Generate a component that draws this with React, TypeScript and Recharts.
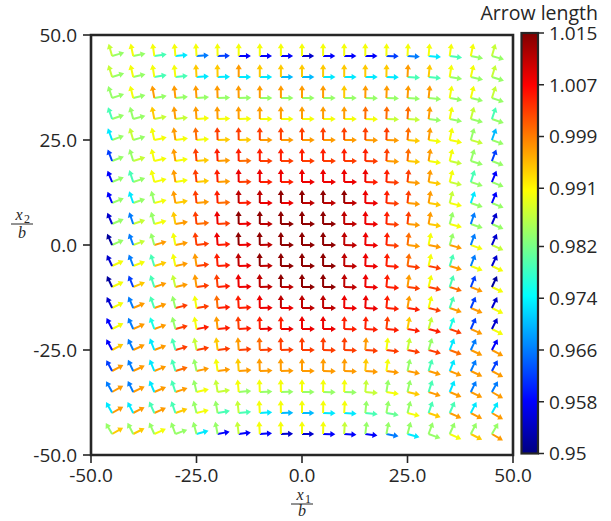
import React from 'react';
import { ScatterChart, Scatter, XAxis, YAxis, ReferenceArea } from 'recharts';

// grid of arrow origins
const gridX = [-45, -40, -35, -30, -25, -20, -15, -10, -5, 0, 5, 10, 15, 20, 25, 30, 35, 40, 45];
const gridY = [45, 40, 35, 30, 25, 20, 15, 10, 5, 0, -5, -10, -15, -20, -25, -30, -35, -40, -45];
const axisTicks = [-50, -25, 0, 25, 50];
const cbTicks = [0.95, 0.958, 0.966, 0.974, 0.982, 0.991, 0.999, 1.007, 1.015];
const cbMin = 0.95;
const cbMax = 1.015;

// arrow length levels, code letters a..u
const lengthLevels = [0.952, 0.955, 0.958, 0.962, 0.966, 0.970, 0.973, 0.976, 0.979, 0.981, 0.984,
  0.987, 0.990, 0.994, 0.997, 1.000, 1.003, 1.005, 1.008, 1.011, 1.014];

// lengths of the "horizontal" lattice arrows, one string per row (top to bottom), groups of 5 columns
const hLengthRows = [
  'kkige dcccb cccde gikk',
  'kkiig gggff ggggi ikkk',
  'kkkkk kkkkk kkkkk kkkk',
  'kkllm mmmmm mmmll kkkk',
  'kkmmm nnooo oooon mmlk',
  'klmmn opqqq qqqon mlkk',
  'kkmmn oqrrs ssrqo nlkk',
  'kkmno prsst ttsqo nmkk',
  'klmop qstuu utsqo nmkk',
  'klooq rstuu utsqo ooml',
  'mmnoq rstuu utsrq qomm',
  'mnooq rsttu utsrq qpom',
  'mooqq rrsst tssrr qoom',
  'mooqr rrsss srrrr rqom',
  'nooqq qqqqq qqqqq qpoo',
  'ooopo ooooo ooooo oooo',
  'oooom lkkkk kklmn oooo',
  'ooonm iigff ggijm nooo',
  'nnmkg cccbb ccceg kmno',
];

// lengths of the "vertical" lattice arrows
const vLengthRows = [
  'lmmmm mmmmm mmmmm mmml',
  'lmmmn nonnn nnnno nmml',
  'kmooo ooooo onooo omml',
  'iknoo ooooo ooppp omli',
  'glmop qqqqq qqqqp omkf',
  'dkmoq rrrrr rrrqp omkd',
  'cimoq rssss sssrq omic',
  'cgkoq rttuu uusrq olgc',
  'beknq suuuu utsrq okeb',
  'aekmq suuuu utsrp mkeb',
  'beimo rtuuu utsrp mieb',
  'adilo qstuu utsro mida',
  'beikm prstt tssro midb',
  'cehkm oqrrs srrqn lhdb',
  'cegil nopqq qqoml kgec',
  'degik mnooo oonmk iged',
  'eegik lmmmm mmlkk igee',
  'ggiik klmmm mmkkk iigg',
  'kkkkk klmmm mlkkk kkkk',
];

// local rotation of the lattice (degrees, counter-clockwise positive)
const rotationRows = [
  [16, 12, 8, 5, 3, 1, 0, 0, 0, 0, 0, 0, 0, -1, -3, -5, -8, -12, -16],
  [17, 13, 9, 6, 3, 1, 0, 0, 0, 0, 0, 0, 0, -1, -3, -6, -9, -13, -17],
  [18, 14, 10, 6, 4, 2, 1, 0, 0, 0, 0, 0, -1, -2, -4, -6, -10, -14, -18],
  [19, 15, 11, 7, 4, 2, 1, 0, 0, 0, 0, 0, -1, -2, -4, -7, -11, -15, -19],
  [20, 16, 12, 8, 5, 2, 1, 0, 0, 0, 0, 0, -1, -2, -5, -8, -12, -16, -20],
  [21, 17, 13, 9, 5, 3, 1, 0, 0, 0, 0, 0, -1, -3, -5, -9, -13, -17, -21],
  [22, 18, 14, 9, 6, 3, 1, 0, 0, 0, 0, 0, -1, -3, -6, -9, -14, -18, -22],
  [22, 19, 14, 10, 6, 3, 1, 0, 0, 0, 0, 0, -1, -3, -6, -10, -14, -19, -22],
  [23, 19, 15, 10, 6, 3, 1, 0, 0, 0, 0, 0, -1, -3, -6, -10, -15, -19, -23],
  [24, 20, 16, 11, 7, 4, 2, 1, 0, 0, 0, -1, -2, -4, -7, -11, -16, -20, -24],
  [25, 21, 17, 12, 8, 4, 2, 1, 0, 0, 0, -1, -2, -4, -8, -12, -17, -21, -25],
  [25, 22, 18, 13, 8, 5, 2, 1, 0, 0, 0, -1, -2, -5, -8, -13, -18, -22, -25],
  [26, 23, 19, 14, 9, 5, 3, 1, 0, 0, 0, -1, -3, -5, -9, -14, -19, -23, -26],
  [27, 24, 20, 15, 10, 6, 3, 1, 0, 0, 0, -1, -3, -6, -10, -15, -20, -24, -27],
  [28, 25, 21, 16, 11, 7, 4, 2, 1, 0, -1, -2, -4, -7, -11, -16, -21, -25, -28],
  [28, 25, 22, 17, 12, 8, 4, 2, 1, 0, -1, -2, -4, -8, -12, -17, -22, -25, -28],
  [29, 26, 23, 18, 13, 9, 5, 2, 1, 0, -1, -2, -5, -9, -13, -18, -23, -26, -29],
  [29, 27, 24, 19, 14, 10, 6, 3, 1, 0, -1, -3, -6, -10, -14, -19, -24, -27, -29],
  [30, 27, 24, 20, 15, 11, 7, 3, 1, 0, -1, -3, -7, -11, -15, -20, -24, -27, -30],
];

const codeToLen = (row: string, j: number) => {
  const s = row.replace(/\s+/g, '');
  const c = s.charCodeAt(Math.min(j, s.length - 1)) - 97;
  return lengthLevels[Math.max(0, Math.min(lengthLevels.length - 1, c))];
};

type Pt = { x: number; y: number; len: number; rot: number };
const hData: Pt[] = [];
const vData: Pt[] = [];
gridY.forEach((y, i) => {
  gridX.forEach((x, j) => {
    hData.push({ x, y, len: codeToLen(hLengthRows[i], j), rot: rotationRows[i][j] });
    vData.push({ x, y, len: codeToLen(vLengthRows[i], j), rot: 90 + rotationRows[i][j] });
  });
});

const clamp = (v: number) => Math.max(0, Math.min(1, v));
const jet = (t: number) => {
  const r = clamp(1.5 - Math.abs(4 * t - 3));
  const g = clamp(1.5 - Math.abs(4 * t - 2));
  const b = clamp(1.5 - Math.abs(4 * t - 1));
  return `rgb(${Math.round(r * 255)},${Math.round(g * 255)},${Math.round(b * 255)})`;
};
const colorOf = (v: number) => jet(clamp((v - cbMin) / (cbMax - cbMin)));

const ARROW_PX = 12.8;
const ArrowShape = (props: any) => {
  const { cx, cy, payload } = props;
  if (cx == null || cy == null || !payload) return <g />;
  const L = payload.len * ARROW_PX;
  const a = (payload.rot * Math.PI) / 180;
  const ux = Math.cos(a);
  const uy = -Math.sin(a);
  const nx = -uy;
  const ny = ux;
  const w = 1.0;
  const hw = 3.1;
  const hl = 5.0;
  const p = (s: number, n: number) => `${(cx + ux * s + nx * n).toFixed(2)},${(cy + uy * s + ny * n).toFixed(2)}`;
  const pts = [p(0, w), p(L - hl, w), p(L - hl, hw), p(L, 0), p(L - hl, -hw), p(L - hl, -w), p(0, -w)].join(' ');
  return <polygon points={pts} fill={colorOf(payload.len)} stroke="none" />;
};

const INK = '#262626';
const FONT = '"Open Sans", "DejaVu Sans", sans-serif';

const cbLeft = 521.5;
const cbRight = 538;
const cbTop = 33;
const cbBottom = 453.5;
const cbY = (v: number) => cbBottom - ((v - cbMin) / (cbMax - cbMin)) * (cbBottom - cbTop);
const gradStops = Array.from({ length: 33 }, (_, k) => k / 32);

export default function App() {
  return (
    <div style={{ position: 'absolute', left: 0, top: 0, width: 610, height: 520 }}>
      <ScatterChart width={610} height={520} margin={{ top: 35, right: 97, bottom: 0, left: 0 }}>
        <XAxis
          type="number"
          dataKey="x"
          domain={[-50, 50]}
          ticks={axisTicks}
          allowDataOverflow
          tickFormatter={(v: number) => v.toFixed(1)}
          axisLine={false}
          tickSize={8}
          tickMargin={6}
          tickLine={{ stroke: INK, strokeWidth: 1.6 }}
          tick={{ fill: INK, fontSize: 19, fontFamily: FONT }}
          height={65}
        />
        <YAxis
          type="number"
          dataKey="y"
          domain={[-50, 50]}
          ticks={axisTicks}
          allowDataOverflow
          tickFormatter={(v: number) => v.toFixed(1)}
          axisLine={false}
          tickSize={8}
          tickMargin={6}
          tickLine={{ stroke: INK, strokeWidth: 1.6 }}
          tick={{ fill: INK, fontSize: 19, fontFamily: FONT }}
          width={91}
        />
        <Scatter data={hData} shape={ArrowShape} isAnimationActive={false} />
        <Scatter data={vData} shape={ArrowShape} isAnimationActive={false} />
        <ReferenceArea x1={-50} x2={50} y1={-50} y2={50} fill="none" fillOpacity={0} stroke={INK} strokeWidth={2.6} ifOverflow="visible" />
      </ScatterChart>
      <svg width={610} height={520} style={{ position: 'absolute', left: 0, top: 0, pointerEvents: 'none' }}>
        <defs>
          <linearGradient id="jetGrad" x1="0" y1="1" x2="0" y2="0">
            {gradStops.map((t) => (
              <stop key={t} offset={`${t * 100}%`} stopColor={jet(t)} />
            ))}
          </linearGradient>
        </defs>
        <rect x={cbLeft} y={cbTop} width={cbRight - cbLeft} height={cbBottom - cbTop} fill="url(#jetGrad)" stroke={INK} strokeWidth={2.2} />
        {cbTicks.map((v) => (
          <g key={v}>
            <line x1={cbRight} x2={cbRight + 6} y1={cbY(v)} y2={cbY(v)} stroke={INK} strokeWidth={1.5} />
            <text x={cbRight + 11} y={cbY(v)} dy="0.36em" fontSize={19} fontFamily={FONT} fill={INK}>
              {String(v)}
            </text>
          </g>
        ))}
        <text x={598} y={20} textAnchor="end" fontSize={19.5} fontFamily={FONT} fill={INK}>
          Arrow length
        </text>
        <g fill={INK} fontFamily='"Liberation Serif", "DejaVu Serif", serif'>
          {/* x axis label x1 / b */}
          <text x={300} y={500} textAnchor="middle" fontSize={16} fontStyle="italic">x</text>
          <text x={305} y={503} fontSize={12}>1</text>
          <line x1={291} x2={313} y1={504} y2={504} stroke={INK} strokeWidth={1} />
          <text x={302} y={516} textAnchor="middle" fontSize={16} fontStyle="italic">b</text>
          {/* y axis label x2 / b */}
          <text x={19} y={220} textAnchor="middle" fontSize={16} fontStyle="italic">x</text>
          <text x={24} y={223} fontSize={12}>2</text>
          <line x1={11} x2={33} y1={224} y2={224} stroke={INK} strokeWidth={1} />
          <text x={22} y={238} textAnchor="middle" fontSize={16} fontStyle="italic">b</text>
        </g>
      </svg>
    </div>
  );
}
